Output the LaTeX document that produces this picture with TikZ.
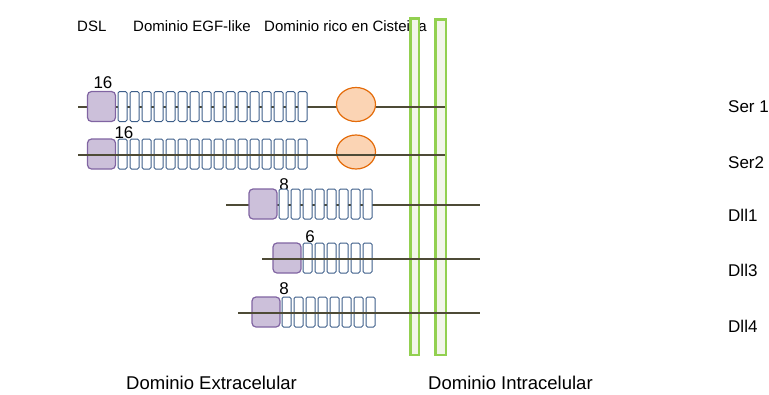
\documentclass[tikz,border=0pt]{standalone}
\usepackage{fontspec}
\setmainfont{Liberation Sans}
\usetikzlibrary{shapes.geometric}

\definecolor{dslfill}{HTML}{CCC0DA}
\definecolor{dslline}{HTML}{8064A2}
\definecolor{egfline}{HTML}{3E5F8A}
\definecolor{cysfill}{HTML}{FBD4B4}
\definecolor{cysline}{HTML}{E46C0A}
\definecolor{chainline}{HTML}{4E4B36}
\definecolor{membfill}{HTML}{F2F5EA}
\definecolor{membline}{HTML}{92D050}

\tikzset{
  dsl/.style={draw=dslline, fill=dslfill, line width=1.2pt, rounded corners=4pt,
    minimum width=28pt, minimum height=30pt, inner sep=0pt},
  egf/.style={draw=egfline, fill=white, line width=1pt, rounded corners=1.5pt,
    minimum width=9pt, minimum height=30pt, inner sep=0pt},
  cys/.style={ellipse, draw=cysline, fill=cysfill, line width=1.2pt,
    minimum width=39pt, minimum height=34pt, inner sep=0pt},
  chain/.style={draw=chainline, line width=2pt},
  memb/.style={draw=membline, fill=membfill, line width=2.5pt},
  legend/.style={font=\fontsize{15}{18}\selectfont, inner sep=0pt, anchor=west},
  num/.style={font=\fontsize{17}{20}\selectfont, inner sep=0pt},
  rowname/.style={font=\fontsize{17}{20}\selectfont, inner sep=0pt, anchor=west},
  side/.style={font=\fontsize{18.5}{22}\selectfont, inner sep=0pt, anchor=west},
}

\begin{document}
\begin{tikzpicture}[x=1pt,y=-1pt]
\useasboundingbox (0,0) rectangle (769,394);

\node[legend] (lgdsl) at (77,26) {DSL};
\node[legend] (lgegf) at (133,26) {Dominio EGF-like};
\node[legend] (lgcys) at (264,26) {Dominio rico en Cisteina};

% membrana
\draw[memb] (410.25,18.25) rectangle (418.75,354.75);
\draw[memb] (435.25,19.25) rectangle (445.75,354.75);

% Ser 1
\coordinate (s1a) at (78,107);
\coordinate (s1b) at (445,107);
\draw[chain] (s1a) -- (s1b);
\node[num] (n1) at (103,83) {16};
\node[dsl] (d1) at (101.5,106.5) {};
\foreach \i in {0,...,15}
  \node[egf] (e1-\i) at (122.5+12*\i,106.5) {};
\node[cys] (c1) at (356,104.5) {};

% Ser2
\coordinate (s2a) at (78,155);
\coordinate (s2b) at (445,155);
\node[dsl] (d2) at (101.5,154) {};
\foreach \i in {0,...,15}
  \node[egf] (e2-\i) at (122.5+12*\i,154) {};
\node[cys] (c2) at (356,152) {};
\node[num] (n2) at (124,133) {16};
\draw[chain] (s2a) -- (s2b);

% Dll1
\coordinate (d1a) at (226,205);
\coordinate (d1b) at (480,205);
\node[num] (n3) at (284,185) {8};
\draw[chain] (d1a) -- (d1b);
\node[dsl] (d3) at (263,204) {};
\foreach \i in {0,...,7}
  \node[egf] (e3-\i) at (283.5+12*\i,204) {};

% Dll3
\coordinate (d3a) at (262,259);
\coordinate (d3b) at (480,259);
\node[num] (n4) at (310,237) {6};
\node[dsl] (d4) at (287,258) {};
\foreach \i in {0,...,5}
  \node[egf] (e4-\i) at (307.5+12*\i,258) {};
\draw[chain] (d3a) -- (d3b);

% Dll4
\coordinate (d4a) at (238,313);
\coordinate (d4b) at (480,313);
\node[dsl] (d5) at (266,312) {};
\foreach \i in {0,...,7}
  \node[egf] (e5-\i) at (286.5+12*\i,312) {};
\draw[chain] (d4a) -- (d4b);
\node[num] (n5) at (284,289) {8};

\node[rowname] (r1) at (728,107) {Ser 1};
\node[rowname] (r2) at (728,163) {Ser2};
\node[rowname] (r3) at (728,215) {Dll1};
\node[rowname] (r4) at (728,270) {Dll3};
\node[rowname] (r5) at (728,326) {Dll4};

\node[side] (extra) at (126,383) {Dominio Extracelular};
\node[side] (intra) at (428,383) {Dominio Intracelular};
\end{tikzpicture}
\end{document}
